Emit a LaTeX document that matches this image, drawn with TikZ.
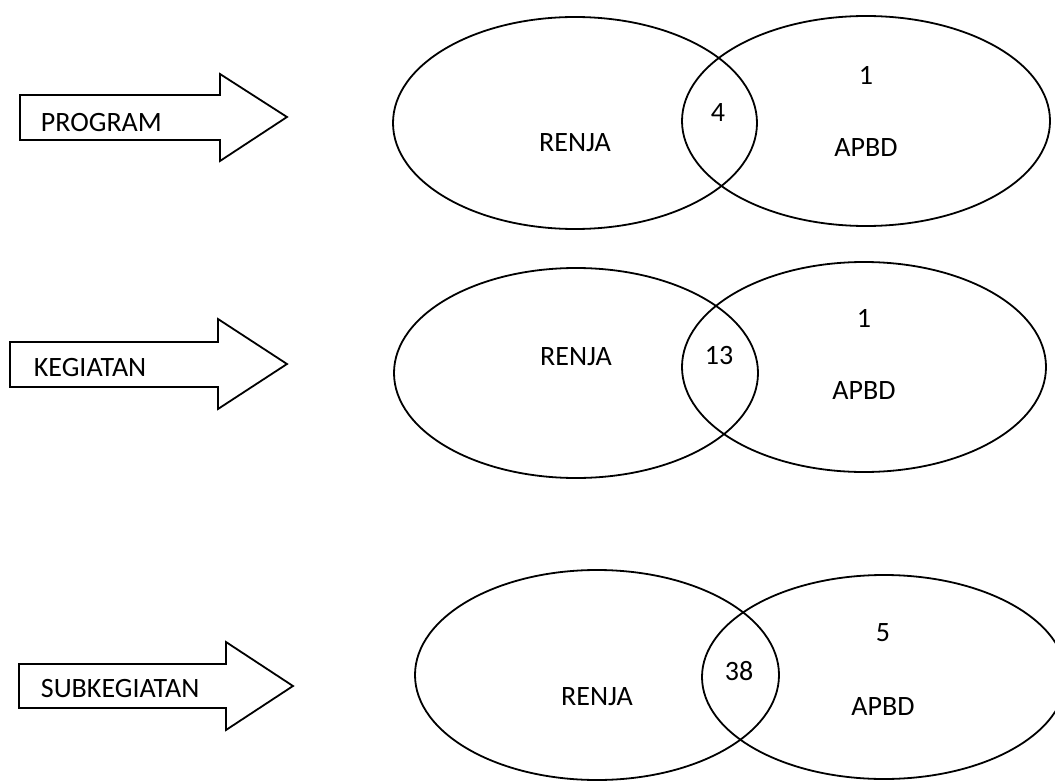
\documentclass[tikz,border=0pt]{standalone}
\usepackage{fontspec}
\setmainfont{Carlito}
\usepackage{tikz}

\begin{document}
\begin{tikzpicture}[x=0.5pt,y=-0.5pt,line width=0.9pt,
  lbl/.style={inner sep=0pt,font=\fontsize{14}{17}\selectfont}]
\useasboundingbox (0,0) rectangle (1055,781);
\clip (0,0) rectangle (1055,781);
% PROGRAM
\draw (20,95)--(220,95)--(220,74)--(287,117)--(220,161)--(220,140)--(20,140)--cycle;
  \node[lbl,anchor=west] (prog) at (40,123) {PROGRAM};
  \draw (575,123) ellipse (91pt and 53pt);
  \draw (866,121) ellipse (92pt and 52.5pt);
  \node[lbl] (renja1) at (575,143) {RENJA};
  \node[lbl] (both1) at (718,113) {4};
  \node[lbl] (only1) at (866,75) {1};
  \node[lbl] (apbd1) at (866,148) {APBD};
% KEGIATAN
\draw (10,342)--(218,342)--(218,319)--(287,364)--(218,409)--(218,387)--(10,387)--cycle;
  \node[lbl,anchor=west] (keg) at (33,368) {KEGIATAN};
  \draw (576,373) ellipse (91pt and 52.5pt);
  \draw (864,367) ellipse (91pt and 52.5pt);
  \node[lbl] (renja2) at (576,357) {RENJA};
  \node[lbl] (both2) at (719,356) {13};
  \node[lbl] (only2) at (864,318) {1};
  \node[lbl] (apbd2) at (864,391) {APBD};
% SUBKEGIATAN
\draw (19,664)--(226,664)--(226,642)--(293,686)--(226,730)--(226,708)--(19,708)--cycle;
  \node[lbl,anchor=west] (subkeg) at (40,689) {SUBKEGIATAN};
  \draw (597,675) ellipse (91pt and 52.5pt);
  \draw (884,677) ellipse (91pt and 51pt);
  \node[lbl] (renja3) at (597,697) {RENJA};
  \node[lbl] (both3) at (739,671) {38};
  \node[lbl] (only3) at (883,633) {5};
  \node[lbl] (apbd3) at (883,707) {APBD};
\end{tikzpicture}
\end{document}
